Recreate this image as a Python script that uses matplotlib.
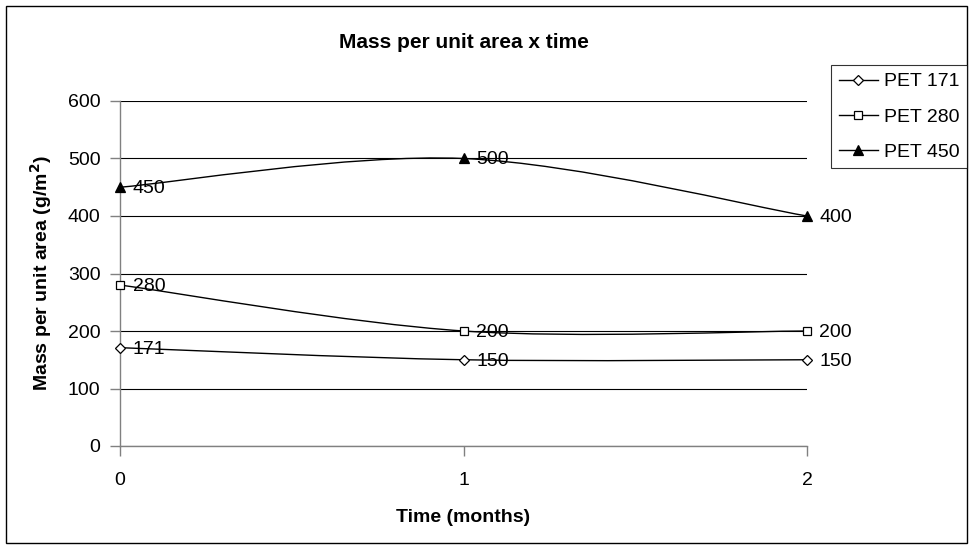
import numpy as np
import matplotlib
matplotlib.use("Agg")
import matplotlib.pyplot as plt
from matplotlib.path import Path
from matplotlib.patches import PathPatch, Rectangle
from matplotlib.lines import Line2D

plt.rcParams["font.family"] = ["Liberation Sans", "DejaVu Sans"]

months = [0, 1, 2]
pet171 = [171, 150, 150]
pet280 = [280, 200, 200]
pet450 = [450, 500, 400]
series_names = ["PET 171", "PET 280", "PET 450"]
markers = ["D", "s", "^"]
marker_faces = ["white", "white", "black"]
marker_sizes = [5, 6, 7]

FS = 14


def smooth_path(xs, ys):
    # Excel-style smoothed line: cubic Bezier with control points at P +/- (Pnext - Pprev)/6
    pts = np.column_stack([xs, ys]).astype(float)
    n = len(pts)
    verts = [pts[0]]
    codes = [Path.MOVETO]
    for i in range(n - 1):
        p0 = pts[max(i - 1, 0)]
        p1 = pts[i]
        p2 = pts[i + 1]
        p3 = pts[min(i + 2, n - 1)]
        c1 = p1 + (p2 - p0) / 6.0
        c2 = p2 - (p3 - p1) / 6.0
        verts += [c1, c2, p2]
        codes += [Path.CURVE4] * 3
    return Path(verts, codes)


fig = plt.figure(figsize=(9.74, 5.5), dpi=100)
ax = fig.add_axes([120 / 974, 1 - 446 / 550, (807 - 120) / 974, (446 - 101) / 550])

ax.set_xlim(0, 2)
ax.set_ylim(0, 600)
ax.set_yticks(range(0, 601, 100))
ax.set_xticks(months)
ax.yaxis.grid(True, color="black", linewidth=0.8)
ax.set_axisbelow(True)
for s in ("top", "right"):
    ax.spines[s].set_visible(False)
for s in ("left", "bottom"):
    ax.spines[s].set_color("#808080")
    ax.spines[s].set_linewidth(1.0)
ax.tick_params(axis="both", colors="#808080", labelcolor="black", labelsize=FS,
               length=7, width=1.0, direction="out")
ax.tick_params(axis="y", pad=7)
ax.tick_params(axis="x", pad=12)

handles = []
for vals, name, mk, fc, ms in zip([pet171, pet280, pet450], series_names,
                                  markers, marker_faces, marker_sizes):
    patch = PathPatch(smooth_path(months, vals), facecolor="none", edgecolor="black",
                      linewidth=1.0, zorder=3, clip_on=False)
    ax.add_patch(patch)
    ax.plot(months, vals, linestyle="none", marker=mk, markersize=ms,
            markerfacecolor=fc, markeredgecolor="black", markeredgewidth=0.9,
            zorder=4, clip_on=False)
    for x, y in zip(months, vals):
        ax.annotate(f"{y}", (x, y), xytext=(9, -1), textcoords="offset points",
                    ha="left", va="center", fontsize=FS, zorder=5,
                    annotation_clip=False)
    handles.append(Line2D([0], [0], color="black", linewidth=1.0, marker=mk,
                          markersize=ms, markerfacecolor=fc,
                          markeredgecolor="black", markeredgewidth=0.9))

ax.set_xlabel("Time (months)", fontsize=FS, fontweight="bold", labelpad=14)
ax.set_ylabel("Mass per unit area (g/m$^\\mathbf{2}$)", fontsize=FS,
              fontweight="bold", labelpad=10)
fig.text(0.5 * (120 + 807) / 974, 1 - 43 / 550, "Mass per unit area x time",
         ha="center", va="center", fontsize=15, fontweight="bold")

leg = fig.legend(handles, series_names, loc="upper right",
                 bbox_to_anchor=(967 / 974, 1 - 65 / 550), fontsize=FS,
                 frameon=True, fancybox=False, edgecolor="black",
                 handlelength=2.0, handletextpad=0.3, borderpad=0.4,
                 labelspacing=0.9, borderaxespad=0)
leg.get_frame().set_linewidth(0.8)

fig.patches.append(Rectangle((6 / 974, 1 - 543 / 550), (967 - 6) / 974, (543 - 6) / 550,
                             transform=fig.transFigure, fill=False,
                             edgecolor="black", linewidth=1.0))

fig.savefig("out.png", dpi=100)
